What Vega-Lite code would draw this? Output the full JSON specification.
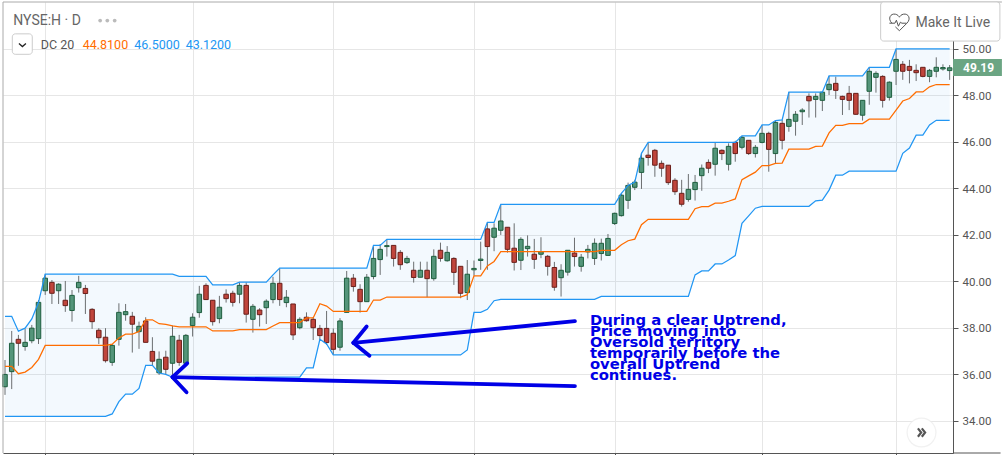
{
  "$schema": "https://vega.github.io/schema/vega-lite/v6.json",
  "width": 950,
  "height": 451,
  "padding": {"left": 3, "top": 2, "right": 49, "bottom": 2},
  "autosize": {"type": "none"},
  "background": "white",
  "config": {
    "view": {"stroke": null},
    "axis": {"labelFont": "Roboto", "title": null}
  },
  "datasets": {
    "candles": [
      {"bar":0,"open":35.47,"close":36.0,"high":36.62,"low":35.12,"upper":38.5,"mid":36.35,"lower":34.2},
      {"bar":1,"open":36.12,"close":37.34,"high":37.87,"low":35.37,"upper":38.5,"mid":36.35,"lower":34.2},
      {"bar":2,"open":37.51,"close":37.34,"high":37.7,"low":36.37,"upper":37.86,"mid":36.03,"lower":34.2},
      {"bar":3,"open":37.2,"close":37.38,"high":37.96,"low":37.02,"upper":37.99,"mid":36.1,"lower":34.2},
      {"bar":4,"open":37.45,"close":37.99,"high":38.13,"low":37.34,"upper":38.39,"mid":36.3,"lower":34.2},
      {"bar":5,"open":37.54,"close":39.1,"high":39.2,"low":37.31,"upper":39.1,"mid":36.65,"lower":34.2},
      {"bar":6,"open":39.6,"close":40.14,"high":40.31,"low":39.42,"upper":40.31,"mid":37.25,"lower":34.2},
      {"bar":7,"open":39.96,"close":39.49,"high":40.06,"low":39.03,"upper":40.31,"mid":37.25,"lower":34.2},
      {"bar":8,"open":39.6,"close":39.88,"high":39.92,"low":39.03,"upper":40.31,"mid":37.25,"lower":34.2},
      {"bar":9,"open":39.19,"close":38.96,"high":40.02,"low":38.69,"upper":40.31,"mid":37.25,"lower":34.2},
      {"bar":10,"open":38.75,"close":39.4,"high":39.63,"low":38.27,"upper":40.31,"mid":37.25,"lower":34.2},
      {"bar":11,"open":39.73,"close":39.96,"high":40.24,"low":39.52,"upper":40.31,"mid":37.25,"lower":34.2},
      {"bar":12,"open":39.7,"close":39.48,"high":39.85,"low":38.6,"upper":40.31,"mid":37.25,"lower":34.2},
      {"bar":13,"open":38.8,"close":38.27,"high":38.85,"low":37.96,"upper":40.31,"mid":37.25,"lower":34.2},
      {"bar":14,"open":37.9,"close":37.58,"high":37.99,"low":37.31,"upper":40.31,"mid":37.25,"lower":34.2},
      {"bar":15,"open":37.6,"close":36.59,"high":37.99,"low":36.51,"upper":40.31,"mid":37.25,"lower":34.2},
      {"bar":16,"open":36.52,"close":37.25,"high":37.31,"low":36.37,"upper":40.31,"mid":37.3,"lower":34.3},
      {"bar":17,"open":37.51,"close":38.67,"high":39.06,"low":37.24,"upper":40.31,"mid":37.57,"lower":34.83},
      {"bar":18,"open":38.57,"close":38.7,"high":39.03,"low":38.31,"upper":40.31,"mid":37.73,"lower":35.15},
      {"bar":19,"open":38.5,"close":38.16,"high":38.69,"low":36.94,"upper":40.31,"mid":37.73,"lower":35.15},
      {"bar":20,"open":37.84,"close":38.07,"high":38.27,"low":37.1,"upper":40.31,"mid":37.85,"lower":35.4},
      {"bar":21,"open":38.3,"close":37.38,"high":38.46,"low":37.38,"upper":40.31,"mid":38.35,"lower":36.39},
      {"bar":22,"open":36.99,"close":36.57,"high":37.6,"low":36.39,"upper":40.31,"mid":38.35,"lower":36.39},
      {"bar":23,"open":36.07,"close":36.65,"high":36.99,"low":35.98,"upper":40.31,"mid":38.18,"lower":36.06},
      {"bar":24,"open":36.74,"close":36.22,"high":37.02,"low":35.98,"upper":40.31,"mid":38.15,"lower":36.0},
      {"bar":25,"open":36.48,"close":37.64,"high":38.1,"low":35.83,"upper":40.31,"mid":38.09,"lower":35.88},
      {"bar":26,"open":37.47,"close":36.52,"high":37.7,"low":36.37,"upper":40.22,"mid":38.05,"lower":35.88},
      {"bar":27,"open":36.48,"close":37.68,"high":37.74,"low":36.41,"upper":40.22,"mid":38.05,"lower":35.88},
      {"bar":28,"open":38.1,"close":38.46,"high":38.63,"low":37.63,"upper":40.22,"mid":38.05,"lower":35.88},
      {"bar":29,"open":38.66,"close":39.45,"high":39.81,"low":38.44,"upper":40.22,"mid":38.05,"lower":35.88},
      {"bar":30,"open":39.83,"close":39.22,"high":39.92,"low":39.2,"upper":40.22,"mid":38.05,"lower":35.88},
      {"bar":31,"open":39.19,"close":38.27,"high":39.2,"low":38.1,"upper":39.85,"mid":37.87,"lower":35.88},
      {"bar":32,"open":38.4,"close":38.89,"high":39.38,"low":38.2,"upper":39.85,"mid":37.87,"lower":35.88},
      {"bar":33,"open":39.45,"close":39.26,"high":39.66,"low":39.09,"upper":39.85,"mid":37.87,"lower":35.88},
      {"bar":34,"open":39.49,"close":39.1,"high":39.6,"low":38.92,"upper":39.85,"mid":37.87,"lower":35.88},
      {"bar":35,"open":39.45,"close":39.83,"high":39.96,"low":39.06,"upper":39.97,"mid":37.93,"lower":35.88},
      {"bar":36,"open":39.83,"close":38.59,"high":39.96,"low":38.23,"upper":39.97,"mid":37.93,"lower":35.88},
      {"bar":37,"open":38.37,"close":38.93,"high":39.03,"low":37.8,"upper":39.97,"mid":37.93,"lower":35.88},
      {"bar":38,"open":38.77,"close":38.57,"high":38.85,"low":38.06,"upper":39.97,"mid":37.93,"lower":35.88},
      {"bar":39,"open":38.87,"close":39.15,"high":39.23,"low":38.17,"upper":39.97,"mid":37.93,"lower":35.88},
      {"bar":40,"open":39.22,"close":39.92,"high":40.2,"low":39.06,"upper":40.28,"mid":38.08,"lower":35.88},
      {"bar":41,"open":39.92,"close":39.22,"high":40.57,"low":38.95,"upper":40.57,"mid":38.23,"lower":35.88},
      {"bar":42,"open":39.09,"close":39.32,"high":39.63,"low":38.89,"upper":40.57,"mid":38.23,"lower":35.88},
      {"bar":43,"open":39.03,"close":37.7,"high":39.03,"low":37.48,"upper":40.57,"mid":38.23,"lower":35.88},
      {"bar":44,"open":38.01,"close":38.37,"high":38.46,"low":37.94,"upper":40.57,"mid":38.23,"lower":35.88},
      {"bar":45,"open":38.46,"close":38.31,"high":38.67,"low":38.27,"upper":40.57,"mid":38.43,"lower":36.28},
      {"bar":46,"open":38.37,"close":38.01,"high":38.46,"low":37.48,"upper":40.57,"mid":38.43,"lower":36.28},
      {"bar":47,"open":37.98,"close":37.67,"high":38.13,"low":37.48,"upper":40.57,"mid":39.04,"lower":37.51},
      {"bar":48,"open":37.98,"close":37.37,"high":38.73,"low":37.27,"upper":40.57,"mid":38.94,"lower":37.31},
      {"bar":49,"open":37.77,"close":37.08,"high":37.98,"low":36.84,"upper":40.57,"mid":38.71,"lower":36.84},
      {"bar":50,"open":37.17,"close":38.3,"high":38.42,"low":37.02,"upper":40.57,"mid":38.71,"lower":36.84},
      {"bar":51,"open":38.67,"close":40.14,"high":40.45,"low":38.67,"upper":40.57,"mid":38.71,"lower":36.84},
      {"bar":52,"open":40.14,"close":39.78,"high":40.32,"low":39.56,"upper":40.57,"mid":38.71,"lower":36.84},
      {"bar":53,"open":39.66,"close":39.13,"high":39.88,"low":38.66,"upper":40.57,"mid":38.71,"lower":36.84},
      {"bar":54,"open":39.13,"close":40.18,"high":40.32,"low":39.13,"upper":40.57,"mid":38.71,"lower":36.84},
      {"bar":55,"open":40.21,"close":40.99,"high":41.5,"low":40.09,"upper":41.55,"mid":39.2,"lower":36.84},
      {"bar":56,"open":40.94,"close":41.38,"high":41.61,"low":40.28,"upper":41.55,"mid":39.2,"lower":36.84},
      {"bar":57,"open":41.5,"close":41.54,"high":41.81,"low":41.07,"upper":41.81,"mid":39.33,"lower":36.84},
      {"bar":58,"open":41.55,"close":40.99,"high":41.55,"low":40.64,"upper":41.81,"mid":39.33,"lower":36.84},
      {"bar":59,"open":41.25,"close":40.72,"high":41.35,"low":40.5,"upper":41.81,"mid":39.33,"lower":36.84},
      {"bar":60,"open":40.81,"close":40.99,"high":41.1,"low":40.75,"upper":41.81,"mid":39.33,"lower":36.84},
      {"bar":61,"open":40.48,"close":40.17,"high":40.85,"low":39.95,"upper":41.81,"mid":39.33,"lower":36.84},
      {"bar":62,"open":40.18,"close":40.48,"high":40.85,"low":40.18,"upper":41.81,"mid":39.33,"lower":36.84},
      {"bar":63,"open":40.48,"close":40.12,"high":40.85,"low":39.32,"upper":41.81,"mid":39.33,"lower":36.84},
      {"bar":64,"open":40.12,"close":41.08,"high":41.38,"low":40.03,"upper":41.81,"mid":39.33,"lower":36.84},
      {"bar":65,"open":41.34,"close":40.99,"high":41.67,"low":40.85,"upper":41.81,"mid":39.33,"lower":36.84},
      {"bar":66,"open":40.89,"close":41.25,"high":41.52,"low":40.85,"upper":41.81,"mid":39.33,"lower":36.84},
      {"bar":67,"open":40.99,"close":40.39,"high":41.04,"low":39.85,"upper":41.81,"mid":39.33,"lower":36.84},
      {"bar":68,"open":40.65,"close":39.49,"high":40.65,"low":39.28,"upper":41.81,"mid":39.33,"lower":36.84},
      {"bar":69,"open":39.52,"close":40.31,"high":40.92,"low":39.2,"upper":41.81,"mid":39.43,"lower":37.05},
      {"bar":70,"open":40.5,"close":40.56,"high":40.9,"low":40.25,"upper":41.81,"mid":40.24,"lower":38.67},
      {"bar":71,"open":40.9,"close":40.96,"high":41.71,"low":40.5,"upper":41.81,"mid":40.24,"lower":38.67},
      {"bar":72,"open":42.26,"close":41.5,"high":42.54,"low":40.5,"upper":42.54,"mid":40.67,"lower":38.8},
      {"bar":73,"open":41.9,"close":42.29,"high":42.5,"low":41.3,"upper":42.54,"mid":40.86,"lower":39.17},
      {"bar":74,"open":42.2,"close":42.6,"high":43.29,"low":42.0,"upper":43.32,"mid":41.28,"lower":39.23},
      {"bar":75,"open":42.33,"close":41.38,"high":42.33,"low":41.24,"upper":43.32,"mid":41.28,"lower":39.23},
      {"bar":76,"open":41.43,"close":40.82,"high":42.5,"low":40.47,"upper":43.32,"mid":41.28,"lower":39.23},
      {"bar":77,"open":40.91,"close":41.81,"high":41.9,"low":40.49,"upper":43.32,"mid":41.28,"lower":39.23},
      {"bar":78,"open":41.41,"close":41.51,"high":41.98,"low":41.07,"upper":43.32,"mid":41.28,"lower":39.23},
      {"bar":79,"open":41.17,"close":40.95,"high":41.83,"low":40.54,"upper":43.32,"mid":41.28,"lower":39.23},
      {"bar":80,"open":41.17,"close":41.28,"high":41.9,"low":41.0,"upper":43.32,"mid":41.28,"lower":39.23},
      {"bar":81,"open":41.08,"close":40.65,"high":41.14,"low":40.25,"upper":43.32,"mid":41.28,"lower":39.23},
      {"bar":82,"open":40.6,"close":39.75,"high":40.84,"low":39.6,"upper":43.32,"mid":41.28,"lower":39.23},
      {"bar":83,"open":40.16,"close":40.48,"high":40.74,"low":39.35,"upper":43.32,"mid":41.28,"lower":39.23},
      {"bar":84,"open":40.4,"close":41.34,"high":41.35,"low":40.25,"upper":43.32,"mid":41.28,"lower":39.23},
      {"bar":85,"open":41.22,"close":41.07,"high":41.88,"low":40.64,"upper":43.32,"mid":41.28,"lower":39.23},
      {"bar":86,"open":40.65,"close":41.04,"high":41.18,"low":40.42,"upper":43.32,"mid":41.28,"lower":39.23},
      {"bar":87,"open":41.27,"close":41.38,"high":41.57,"low":40.99,"upper":43.32,"mid":41.28,"lower":39.23},
      {"bar":88,"open":40.99,"close":41.64,"high":41.85,"low":40.71,"upper":43.32,"mid":41.28,"lower":39.23},
      {"bar":89,"open":41.2,"close":41.64,"high":41.84,"low":40.9,"upper":43.32,"mid":41.34,"lower":39.36},
      {"bar":90,"open":41.12,"close":41.85,"high":42.04,"low":41.12,"upper":43.32,"mid":41.34,"lower":39.36},
      {"bar":91,"open":42.49,"close":42.93,"high":42.96,"low":42.43,"upper":43.32,"mid":41.34,"lower":39.36},
      {"bar":92,"open":42.83,"close":43.71,"high":43.79,"low":42.79,"upper":43.79,"mid":41.58,"lower":39.36},
      {"bar":93,"open":43.49,"close":44.13,"high":44.25,"low":43.12,"upper":44.13,"mid":41.75,"lower":39.36},
      {"bar":94,"open":44.05,"close":44.27,"high":44.37,"low":43.93,"upper":44.27,"mid":41.82,"lower":39.36},
      {"bar":95,"open":44.69,"close":45.3,"high":45.51,"low":43.98,"upper":45.51,"mid":42.44,"lower":39.36},
      {"bar":96,"open":45.43,"close":45.33,"high":45.97,"low":44.98,"upper":45.98,"mid":42.67,"lower":39.36},
      {"bar":97,"open":45.64,"close":45.0,"high":45.7,"low":44.5,"upper":45.98,"mid":42.67,"lower":39.36},
      {"bar":98,"open":45.08,"close":44.87,"high":45.2,"low":44.5,"upper":45.98,"mid":42.67,"lower":39.36},
      {"bar":99,"open":45.0,"close":44.25,"high":45.0,"low":44.15,"upper":45.98,"mid":42.67,"lower":39.36},
      {"bar":100,"open":44.35,"close":43.86,"high":44.44,"low":43.72,"upper":45.98,"mid":42.67,"lower":39.36},
      {"bar":101,"open":43.79,"close":43.32,"high":44.37,"low":43.22,"upper":45.98,"mid":42.67,"lower":39.36},
      {"bar":102,"open":43.53,"close":43.96,"high":44.62,"low":43.43,"upper":45.98,"mid":42.67,"lower":39.36},
      {"bar":103,"open":43.95,"close":44.26,"high":44.58,"low":43.48,"upper":45.98,"mid":43.13,"lower":40.28},
      {"bar":104,"open":44.55,"close":44.87,"high":45.03,"low":43.9,"upper":45.98,"mid":43.22,"lower":40.45},
      {"bar":105,"open":45.12,"close":44.87,"high":45.25,"low":44.66,"upper":45.98,"mid":43.22,"lower":40.45},
      {"bar":106,"open":45.04,"close":45.73,"high":45.98,"low":44.55,"upper":45.98,"mid":43.37,"lower":40.75},
      {"bar":107,"open":45.64,"close":45.5,"high":45.68,"low":45.22,"upper":45.98,"mid":43.37,"lower":40.75},
      {"bar":108,"open":45.04,"close":45.81,"high":45.94,"low":44.77,"upper":45.98,"mid":43.45,"lower":40.92},
      {"bar":109,"open":45.98,"close":45.5,"high":46.05,"low":45.15,"upper":45.98,"mid":43.55,"lower":41.11},
      {"bar":110,"open":45.77,"close":46.2,"high":46.26,"low":45.68,"upper":46.26,"mid":44.38,"lower":42.5},
      {"bar":111,"open":46.07,"close":45.5,"high":46.07,"low":45.44,"upper":46.26,"mid":44.54,"lower":42.82},
      {"bar":112,"open":45.5,"close":45.77,"high":45.87,"low":45.33,"upper":46.26,"mid":44.7,"lower":43.15},
      {"bar":113,"open":45.98,"close":46.37,"high":46.73,"low":45.94,"upper":46.73,"mid":44.98,"lower":43.23},
      {"bar":114,"open":46.37,"close":45.68,"high":46.44,"low":44.72,"upper":46.73,"mid":44.98,"lower":43.23},
      {"bar":115,"open":45.5,"close":46.84,"high":46.92,"low":45.08,"upper":46.92,"mid":45.08,"lower":43.23},
      {"bar":116,"open":46.8,"close":46.07,"high":46.95,"low":45.68,"upper":46.95,"mid":45.09,"lower":43.23},
      {"bar":117,"open":46.67,"close":46.97,"high":48.14,"low":46.44,"upper":48.14,"mid":45.69,"lower":43.23},
      {"bar":118,"open":46.89,"close":47.19,"high":47.33,"low":46.27,"upper":48.14,"mid":45.69,"lower":43.23},
      {"bar":119,"open":47.3,"close":47.37,"high":47.45,"low":46.73,"upper":48.14,"mid":45.69,"lower":43.23},
      {"bar":120,"open":47.96,"close":47.77,"high":48.09,"low":47.05,"upper":48.14,"mid":45.69,"lower":43.23},
      {"bar":121,"open":47.83,"close":47.96,"high":48.09,"low":47.05,"upper":48.14,"mid":45.81,"lower":43.47},
      {"bar":122,"open":47.79,"close":48.14,"high":48.16,"low":47.33,"upper":48.14,"mid":45.82,"lower":43.5},
      {"bar":123,"open":48.25,"close":48.48,"high":48.84,"low":48.02,"upper":48.84,"mid":46.39,"lower":43.93},
      {"bar":124,"open":48.52,"close":48.22,"high":48.81,"low":47.85,"upper":48.84,"mid":46.71,"lower":44.57},
      {"bar":125,"open":47.96,"close":47.83,"high":47.99,"low":47.16,"upper":48.84,"mid":46.71,"lower":44.57},
      {"bar":126,"open":48.09,"close":47.79,"high":48.41,"low":47.37,"upper":48.84,"mid":46.79,"lower":44.74},
      {"bar":127,"open":48.09,"close":47.19,"high":48.09,"low":47.16,"upper":48.84,"mid":46.79,"lower":44.74},
      {"bar":128,"open":47.15,"close":47.79,"high":47.79,"low":46.92,"upper":48.84,"mid":46.79,"lower":44.74},
      {"bar":129,"open":48.18,"close":49.04,"high":49.21,"low":47.6,"upper":49.21,"mid":46.98,"lower":44.74},
      {"bar":130,"open":48.78,"close":48.95,"high":49.04,"low":48.12,"upper":49.21,"mid":46.98,"lower":44.74},
      {"bar":131,"open":48.82,"close":47.79,"high":48.87,"low":47.48,"upper":49.21,"mid":46.98,"lower":44.74},
      {"bar":132,"open":47.92,"close":48.57,"high":48.61,"low":47.78,"upper":49.21,"mid":46.98,"lower":44.74},
      {"bar":133,"open":49.04,"close":49.55,"high":49.99,"low":48.45,"upper":50.0,"mid":47.37,"lower":44.74},
      {"bar":134,"open":49.34,"close":49.04,"high":49.48,"low":48.67,"upper":50.0,"mid":47.76,"lower":45.51},
      {"bar":135,"open":49.25,"close":49.08,"high":49.53,"low":48.52,"upper":50.0,"mid":47.87,"lower":45.74},
      {"bar":136,"open":49.08,"close":48.98,"high":49.34,"low":48.62,"upper":50.0,"mid":48.15,"lower":46.29},
      {"bar":137,"open":49.21,"close":48.82,"high":49.21,"low":48.78,"upper":50.0,"mid":48.15,"lower":46.29},
      {"bar":138,"open":48.82,"close":49.08,"high":49.14,"low":48.57,"upper":50.0,"mid":48.37,"lower":46.73},
      {"bar":139,"open":49.04,"close":49.21,"high":49.64,"low":48.78,"upper":50.0,"mid":48.47,"lower":46.93},
      {"bar":140,"open":49.14,"close":49.2,"high":49.34,"low":49.07,"upper":50.0,"mid":48.47,"lower":46.93},
      {"bar":141,"open":49.07,"close":49.19,"high":49.31,"low":48.67,"upper":50.0,"mid":48.47,"lower":46.93}
    ],
    "arrows": [
      {"bar":85.07,"price":38.29,"bar2":52,"price2":37.36},
      {"bar":52,"price":37.36,"bar2":53.98,"price2":38.06},
      {"bar":52,"price":37.36,"bar2":54.4,"price2":36.8},
      {"bar":85.07,"price":35.5,"bar2":25,"price2":35.88},
      {"bar":25,"price":35.88,"bar2":27.2,"price2":36.48},
      {"bar":25,"price":35.88,"bar2":27.1,"price2":35.23}
    ],
    "note": [
      {"bar":87.3,"price":38.13,"text":"During a clear Uptrend,"},
      {"bar":87.3,"price":37.66,"text":"Price moving into"},
      {"bar":87.3,"price":37.18,"text":"Oversold territory"},
      {"bar":87.3,"price":36.71,"text":"temporarily before the"},
      {"bar":87.3,"price":36.24,"text":"overall Uptrend"},
      {"bar":87.3,"price":35.76,"text":"continues."}
    ]
  },
  "encoding": {
    "x": {
      "field": "bar",
      "type": "quantitative",
      "scale": {"domain": [-0.3, 141.5], "nice": false, "zero": false, "padding": 0},
      "axis": {
        "values": [6, 28, 49, 70, 91, 113, 133],
        "labels": false,
        "tickSize": 3,
        "tickColor": "#555555",
        "domainColor": "#555555",
        "gridColor": "#e6e6e6",
        "grid": true
      }
    },
    "y": {
      "field": "price",
      "type": "quantitative",
      "scale": {"domain": [32.62, 52.02], "nice": false, "zero": false},
      "axis": {
        "orient": "right",
        "values": [34, 36, 38, 40, 42, 44, 46, 48, 50],
        "format": ".2f",
        "tickSize": 5,
        "labelPadding": 4,
        "labelOffset": 1,
        "labelFontSize": 11.5,
        "labelColor": "#555555",
        "tickColor": "#555555",
        "domainColor": "#555555",
        "gridColor": "#e6e6e6",
        "grid": true
      }
    }
  },
  "layer": [
    {
      "data": {"name": "candles"},
      "mark": {"type": "area", "color": "#2196f3", "opacity": 0.055},
      "encoding": {"y": {"field": "upper", "type": "quantitative"}, "y2": {"field": "lower"}}
    },
    {
      "data": {"name": "candles"},
      "mark": {"type": "rule", "color": "#6b6e70", "strokeWidth": 1},
      "encoding": {"y": {"field": "high", "type": "quantitative"}, "y2": {"field": "low"}}
    },
    {
      "data": {"name": "candles"},
      "mark": {"type": "bar", "size": 4.5, "strokeWidth": 1, "orient": "vertical"},
      "encoding": {
        "y": {"field": "open", "type": "quantitative"},
        "y2": {"field": "close"},
        "fill": {"condition": {"test": "datum.close >= datum.open", "value": "#54957a"}, "value": "#c0453c"},
        "stroke": {"condition": {"test": "datum.close >= datum.open", "value": "#1e5e3e"}, "value": "#6a1f1a"}
      }
    },
    {
      "data": {"name": "candles"},
      "mark": {"type": "line", "color": "#2196f3", "strokeWidth": 1.25},
      "encoding": {"y": {"field": "upper", "type": "quantitative"}}
    },
    {
      "data": {"name": "candles"},
      "mark": {"type": "line", "color": "#2196f3", "strokeWidth": 1.25},
      "encoding": {"y": {"field": "lower", "type": "quantitative"}}
    },
    {
      "data": {"name": "candles"},
      "mark": {"type": "line", "color": "#ff6d00", "strokeWidth": 1.25},
      "encoding": {"y": {"field": "mid", "type": "quantitative"}}
    },
    {
      "data": {"name": "arrows"},
      "mark": {"type": "rule", "color": "#0000e6", "strokeWidth": 3.8, "strokeCap": "round"},
      "encoding": {"x2": {"field": "bar2"}, "y2": {"field": "price2"}}
    },
    {
      "data": {"name": "note"},
      "mark": {"type": "text", "align": "left", "baseline": "alphabetic", "font": "DejaVu Sans", "fontWeight": "bold", "fontSize": 14.8, "color": "#0000e6"},
      "encoding": {"text": {"field": "text"}}
    },
    {
      "data": {"values": [{"bar": -0.3, "bar2": 148.8, "price": 52.02, "price2": 52.02}]},
      "mark": {"type": "rule", "color": "#aaaaaa", "strokeWidth": 1},
      "encoding": {"x2": {"field": "bar2"}, "y2": {"field": "price2"}}
    },
    {
      "data": {"values": [{"bar": -0.3, "price": 52.02, "price2": 32.62}]},
      "mark": {"type": "rule", "color": "#aaaaaa", "strokeWidth": 1},
      "encoding": {"y2": {"field": "price2"}}
    },
    {
      "data": {"values": [{"bar": 141.5, "bar2": 148.6, "price": 32.62, "price2": 32.62}]},
      "mark": {"type": "rule", "color": "#555555", "strokeWidth": 1},
      "encoding": {"x2": {"field": "bar2"}, "y2": {"field": "price2"}}
    },
    {
      "data": {"values": [{"bar": 141.5, "bar2": 148.8, "price": 49.57, "price2": 48.84}]},
      "mark": {"type": "rect", "color": "#6ba583"},
      "encoding": {"x2": {"field": "bar2"}, "y2": {"field": "price2"}}
    },
    {
      "data": {"values": [{"bar": 143, "price": 49.17, "text": "49.19"}]},
      "mark": {"type": "text", "align": "left", "baseline": "middle", "font": "Roboto", "fontSize": 12, "fontWeight": "bold", "color": "white"},
      "encoding": {"text": {"field": "text"}}
    },
    {
      "data": {"values": [{"bar": 1.24, "price": 51.03, "text": "NYSE:H · D"}]},
      "mark": {"type": "text", "align": "left", "baseline": "alphabetic", "font": "Roboto", "fontSize": 14, "color": "#666666"},
      "encoding": {"text": {"field": "text"}}
    },
    {
      "data": {"values": [{"bar": 14.2, "price": 51.22}, {"bar": 15.27, "price": 51.22}, {"bar": 16.37, "price": 51.22}]},
      "mark": {"type": "point", "shape": "circle", "filled": true, "size": 14, "color": "#bbbbbb", "opacity": 1},
      "encoding": {}
    },
    {
      "data": {"values": [{"bar": 1.09, "bar2": 4.07, "price": 50.65, "price2": 49.77}]},
      "mark": {"type": "rect", "fill": "white", "stroke": "#cccccc", "strokeWidth": 1, "cornerRadius": 3},
      "encoding": {"x2": {"field": "bar2"}, "y2": {"field": "price2"}}
    },
    {
      "data": {"values": [{"bar": 2.6, "price": 50.17}]},
      "mark": {"type": "point", "shape": "M-0.9,-0.4 L0,0.4 L0.9,-0.4", "filled": false, "size": 60, "color": "#222222", "strokeWidth": 1.3, "opacity": 1},
      "encoding": {}
    },
    {
      "data": {"values": [{"bar": 5.33, "price": 50.01, "text": "DC 20"}]},
      "mark": {"type": "text", "align": "left", "baseline": "alphabetic", "font": "Roboto", "fontSize": 12.5, "color": "#555555"},
      "encoding": {"text": {"field": "text"}}
    },
    {
      "data": {"values": [{"bar": 11.6, "price": 50.01, "text": "44.8100"}]},
      "mark": {"type": "text", "align": "left", "baseline": "alphabetic", "font": "Roboto", "fontSize": 12.5, "color": "#ff6d00"},
      "encoding": {"text": {"field": "text"}}
    },
    {
      "data": {"values": [{"bar": 19.3, "price": 50.01, "text": "46.5000"}, {"bar": 26.97, "price": 50.01, "text": "43.1200"}]},
      "mark": {"type": "text", "align": "left", "baseline": "alphabetic", "font": "Roboto", "fontSize": 12.5, "color": "#2196f3"},
      "encoding": {"text": {"field": "text"}}
    },
    {
      "data": {"values": [{"bar": 130.7, "bar2": 148.5, "price": 52.02, "price2": 50.34}]},
      "mark": {"type": "rect", "fill": "white", "stroke": "#cccccc", "strokeWidth": 1, "cornerRadius": 3},
      "encoding": {"x2": {"field": "bar2"}, "y2": {"field": "price2"}}
    },
    {
      "data": {"values": [{"bar": 133.5, "price": 51.13}]},
      "mark": {"type": "point", "shape": "M-0.75,0.05 C-1.2,-0.4 -0.9,-0.95 -0.4,-0.85 C-0.2,-0.82 -0.05,-0.65 0,-0.55 C0.05,-0.65 0.2,-0.82 0.4,-0.85 C0.9,-0.95 1.2,-0.4 0.75,0.05 L0,0.8 L-0.4,0.42 M-1,0.05 L-0.45,0.05 L-0.3,-0.25 L-0.1,0.35 L0.1,-0.05 L0.25,0.05 L0.7,0.05", "filled": false, "size": 400, "color": "#555555", "strokeWidth": 1, "opacity": 1},
      "encoding": {}
    },
    {
      "data": {"values": [{"bar": 135.9, "price": 50.96, "text": "Make It Live"}]},
      "mark": {"type": "text", "align": "left", "baseline": "alphabetic", "font": "Roboto", "fontSize": 14, "color": "#666666"},
      "encoding": {"text": {"field": "text"}}
    },
    {
      "data": {"values": [{"bar": 136.8, "price": 33.5}]},
      "mark": {"type": "point", "shape": "circle", "filled": true, "size": 900, "color": "#eeeeee", "opacity": 0.8},
      "encoding": {}
    },
    {
      "data": {"values": [{"bar": 136.8, "price": 33.5}]},
      "mark": {"type": "point", "shape": "circle", "filled": true, "size": 760, "color": "white", "opacity": 1},
      "encoding": {}
    },
    {
      "data": {"values": [{"bar": 136.8, "price": 33.5}]},
      "mark": {"type": "point", "shape": "M-0.6,-0.7 L-0.05,0 L-0.6,0.7 M0.05,-0.7 L0.6,0 L0.05,0.7", "filled": false, "size": 144, "color": "#555555", "strokeWidth": 2.2, "opacity": 1},
      "encoding": {}
    }
  ]
}
